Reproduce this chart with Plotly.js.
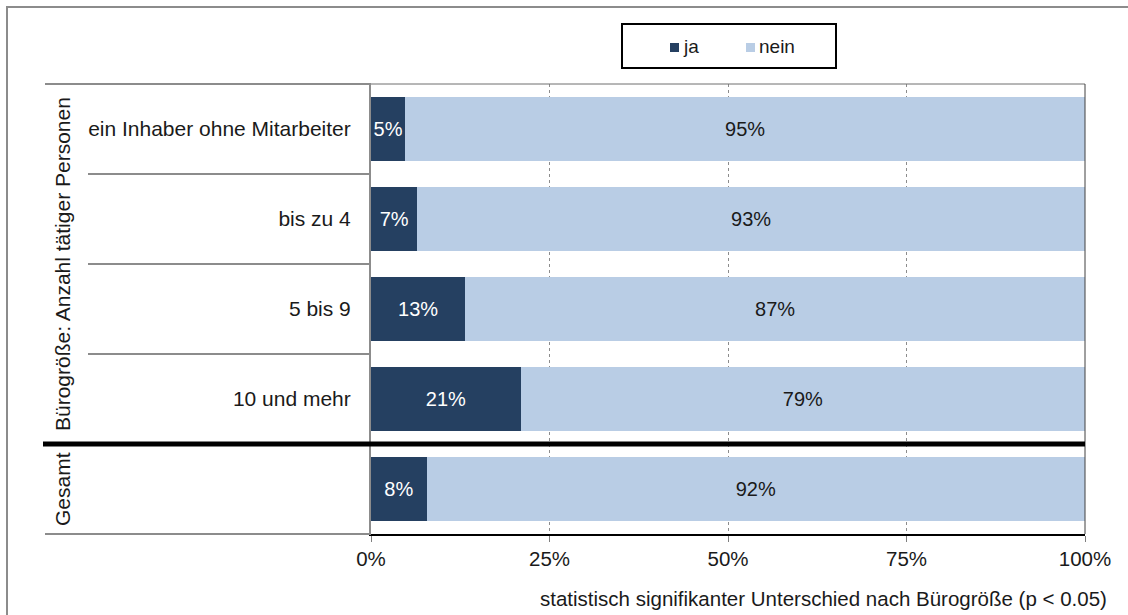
<!DOCTYPE html>
<html>
<head>
<meta charset="utf-8">
<script src="https://cdn.plot.ly/plotly-3.0.1.min.js"></script>
<style>html,body{margin:0;padding:0;background:#fff;}#chart{width:1128px;height:615px;}</style>
</head>
<body>
<div id="chart"></div>
<script>
// ---- data ----
const categories = ['ein Inhaber ohne Mitarbeiter', 'bis zu 4', '5 bis 9', '10 und mehr', 'Gesamt'];
const rowLabels = ['ein Inhaber ohne Mitarbeiter', 'bis zu 4', '5 bis 9', '10 und mehr', ''];
const groupLabels = ['Bürogröße: Anzahl tätiger Personen', 'Gesamt'];
const seriesNames = ['ja', 'nein'];
const seriesColors = ['#254061', '#b9cde5'];
const jaValues = [4.8, 6.5, 13.2, 21.0, 7.8];
const neinValues = [95.2, 93.5, 86.8, 79.0, 92.2];
const jaLabels = ['5%', '7%', '13%', '21%', '8%'];
const neinLabels = ['95%', '93%', '87%', '79%', '92%'];
const xTickVals = [0, 25, 50, 75, 100];
const xTickText = ['0%', '25%', '50%', '75%', '100%'];
const xAxisTitle = 'statistisch signifikanter Unterschied nach Bürogröße (p < 0.05)';

// ---- layout helpers (pixel -> paper) ----
const FIG_W = 1128, FIG_H = 615;
const L = 371, R = 1085, T = 84, B = 534;
const W = R - L, H = B - T;
const fx = px => (px - L) / W;
const fy = py => (B - py) / H;
const FONT = 'Liberation Sans, Arial, sans-serif';
const GRAY = '#8c8c8c';
const TXT = '#1a1a1a';

const traces = [
  {
    type: 'bar', orientation: 'h', name: seriesNames[0],
    y: categories, x: jaValues, text: jaLabels,
    textposition: 'inside', insidetextanchor: 'middle', constraintext: 'none', textangle: 0,
    textfont: {color: '#ffffff', size: 20, family: FONT},
    marker: {color: seriesColors[0], line: {width: 0}},
    hoverinfo: 'skip'
  },
  {
    type: 'bar', orientation: 'h', name: seriesNames[1],
    y: categories, x: neinValues, text: neinLabels,
    textposition: 'inside', insidetextanchor: 'middle', constraintext: 'none', textangle: 0,
    textfont: {color: TXT, size: 20, family: FONT},
    marker: {color: seriesColors[1], line: {width: 0}},
    hoverinfo: 'skip'
  }
];

const shapes = [
  // outer chart border
  {type: 'rect', xref: 'paper', yref: 'paper', x0: fx(7), x1: fx(FIG_W + 10), y0: fy(FIG_H + 10), y1: fy(7),
   line: {color: GRAY, width: 2}, fillcolor: 'rgba(0,0,0,0)', layer: 'below'},
  // label table top line
  {type: 'line', xref: 'paper', yref: 'paper', x0: fx(45), x1: 0, y0: 1, y1: 1, line: {color: GRAY, width: 2}},
  // row dividers in label table
  {type: 'line', xref: 'paper', yref: 'y', x0: fx(88), x1: 0, y0: 0.5, y1: 0.5, line: {color: GRAY, width: 2}},
  {type: 'line', xref: 'paper', yref: 'y', x0: fx(88), x1: 0, y0: 1.5, y1: 1.5, line: {color: GRAY, width: 2}},
  {type: 'line', xref: 'paper', yref: 'y', x0: fx(88), x1: 0, y0: 2.5, y1: 2.5, line: {color: GRAY, width: 2}},
  // label table bottom line
  {type: 'line', xref: 'paper', yref: 'paper', x0: fx(45), x1: 0, y0: 0, y1: 0, line: {color: GRAY, width: 2}},
  // plot top border
  {type: 'line', xref: 'paper', yref: 'paper', x0: 0, x1: 1, y0: 1, y1: 1, line: {color: '#6e6e6e', width: 1}},
  // plot right border
  {type: 'line', xref: 'paper', yref: 'paper', x0: 1, x1: 1, y0: 0, y1: 1, line: {color: '#404040', width: 1}},
  // thick separator between groups
  {type: 'line', xref: 'paper', yref: 'y', x0: fx(43), x1: 1, y0: 3.5, y1: 3.5, line: {color: '#000000', width: 5}},
  // legend box
  {type: 'rect', xref: 'paper', yref: 'paper', x0: fx(622), x1: fx(836), y0: fy(68), y1: fy(24),
   line: {color: '#000000', width: 2}, fillcolor: '#ffffff'},
  // legend swatches
  {type: 'rect', xref: 'paper', yref: 'paper', x0: fx(670), x1: fx(679), y0: fy(52), y1: fy(43),
   line: {width: 0}, fillcolor: seriesColors[0]},
  {type: 'rect', xref: 'paper', yref: 'paper', x0: fx(746), x1: fx(755), y0: fy(52), y1: fy(43),
   line: {width: 0}, fillcolor: seriesColors[1]}
];

const annotations = [
  {text: groupLabels[0], xref: 'paper', yref: 'y', x: fx(62), y: 1.5, textangle: -90,
   xanchor: 'center', yanchor: 'middle', showarrow: false, font: {size: 21, color: TXT, family: FONT}},
  {text: groupLabels[1], xref: 'paper', yref: 'y', x: fx(62), y: 4, textangle: -90,
   xanchor: 'center', yanchor: 'middle', showarrow: false, font: {size: 21, color: TXT, family: FONT}},
  {text: xAxisTitle, xref: 'paper', yref: 'paper', x: fx(1109), y: fy(598),
   xanchor: 'right', yanchor: 'middle', showarrow: false, font: {size: 20.5, color: TXT, family: FONT}},
  // legend labels
  {text: seriesNames[0], xref: 'paper', yref: 'paper', x: fx(681), y: fy(46.5),
   xanchor: 'left', yanchor: 'middle', showarrow: false, font: {size: 19, color: TXT, family: FONT}},
  {text: seriesNames[1], xref: 'paper', yref: 'paper', x: fx(757), y: fy(46.5),
   xanchor: 'left', yanchor: 'middle', showarrow: false, font: {size: 19, color: TXT, family: FONT}}
];

const layout = {
  width: FIG_W, height: FIG_H,
  margin: {l: L, r: FIG_W - R, t: T, b: FIG_H - B, pad: 0},
  paper_bgcolor: '#ffffff', plot_bgcolor: '#ffffff',
  font: {family: FONT, size: 20, color: TXT},
  barmode: 'stack', bargap: 0.29,
  showlegend: false,
  xaxis: {
    range: [0, 100], tickmode: 'array', tickvals: xTickVals, ticktext: xTickText,
    ticks: 'outside', ticklen: 6, tickcolor: '#7f7f7f', tickwidth: 1,
    showgrid: true, gridcolor: '#8c8c8c', griddash: 'dot', gridwidth: 1,
    zeroline: false, showline: true, linecolor: '#000000', linewidth: 1.5,
    tickfont: {size: 20.5, family: FONT, color: TXT}, fixedrange: true
  },
  yaxis: {
    type: 'category', categoryorder: 'array', categoryarray: categories,
    range: [4.5, -0.5], tickmode: 'array', tickvals: categories, ticktext: rowLabels,
    ticks: '', showgrid: false, zeroline: false,
    showline: true, linecolor: GRAY, linewidth: 2,
    ticklabelstandoff: 14,
    tickfont: {size: 21, family: FONT, color: TXT}, fixedrange: true
  },
  shapes: shapes,
  annotations: annotations
};

Plotly.newPlot('chart', traces, layout, {displayModeBar: false, staticPlot: true});
</script>
</body>
</html>
